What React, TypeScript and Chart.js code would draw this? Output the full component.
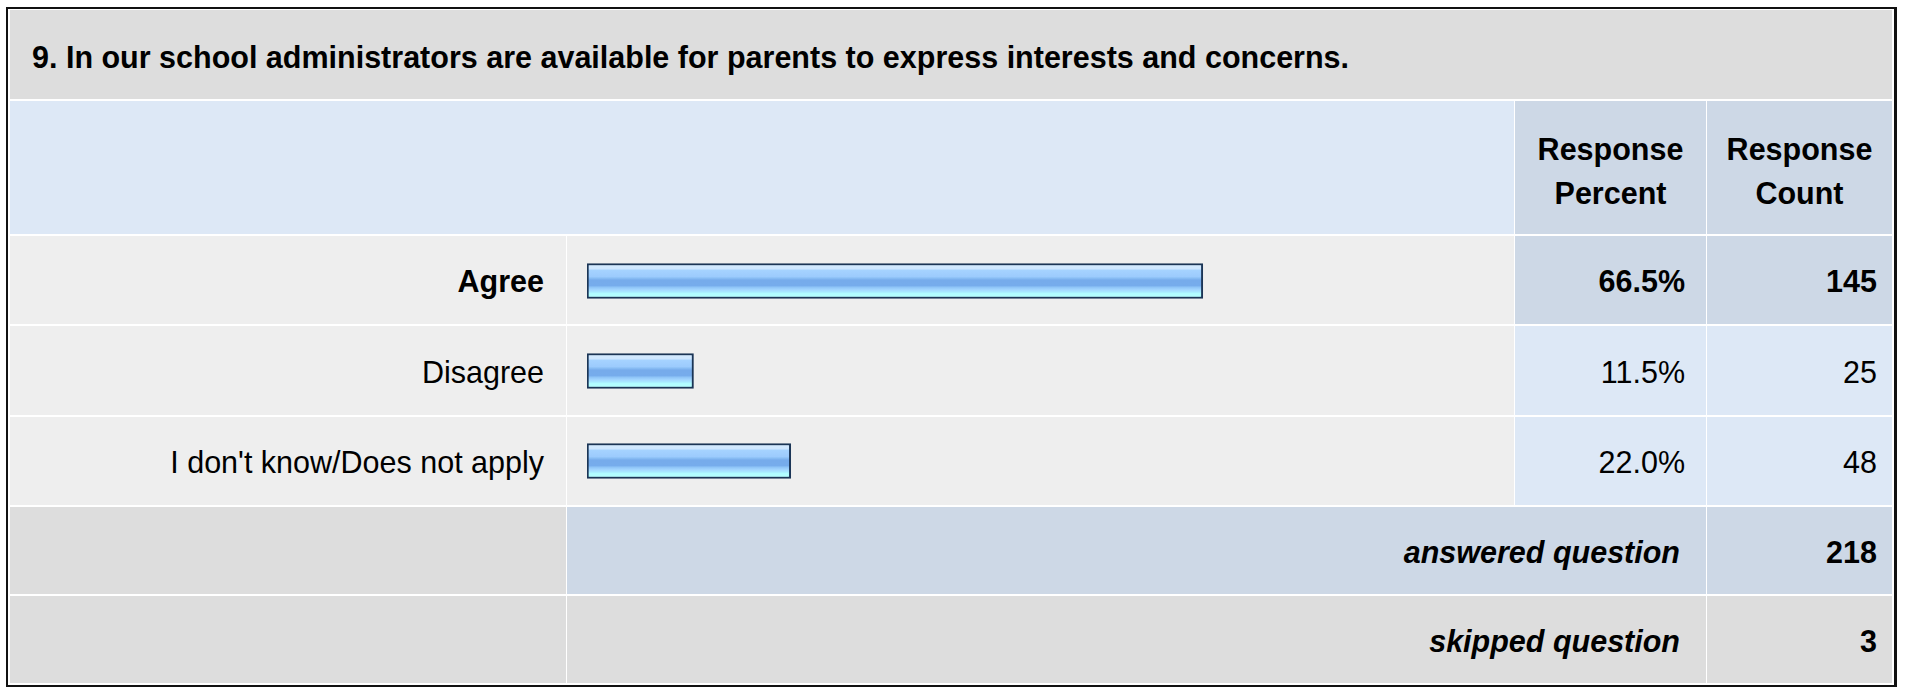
import React, { useEffect, useRef } from "react";
import { Chart, registerables } from "chart.js";

Chart.register(...registerables);

const title = "9. In our school administrators are available for parents to express interests and concerns.";
const categories = ["Agree", "Disagree", "I don't know/Does not apply"];
const percents = [66.5, 11.5, 22.0];
const counts = [145, 25, 48];
const answeredCount = 218;
const skippedCount = 3;
const headerPercent = ["Response", "Percent"];
const headerCount = ["Response", "Count"];

const FONT = "'Liberation Sans', Arial, Helvetica, sans-serif";
const FS = "30.5px";

const GRAY = "#dddddd";
const ROW = "#eeeeee";
const LBLUE = "#dde8f6";
const DBLUE = "#cdd8e6";

const COLS = [10, 567, 1515, 1707, 1893];
const ROWS = [
  [10, 100],
  [101, 235],
  [236, 325],
  [326, 416],
  [417, 506],
  [507, 595],
  [596, 684],
];

function Cell(props: {
  c0: number;
  c1: number;
  r: number;
  bg: string;
  align?: string;
  pr?: number;
  pl?: number;
  children?: React.ReactNode;
  style?: React.CSSProperties;
}) {
  const { c0, c1, r, bg, align = "flex-end", pr = 0, pl = 0, children, style } = props;
  const left = c0;
  const right = c1;
  const top = ROWS[r][0];
  const bottom = ROWS[r][1];
  return (
    <div
      style={{
        position: "absolute",
        left,
        top,
        width: right - left - 1,
        height: bottom - top - 1,
        background: bg,
        display: "flex",
        alignItems: "center",
        justifyContent: align,
        paddingRight: pr,
        paddingLeft: pl,
        paddingTop: 3,
        boxSizing: "border-box",
        fontFamily: FONT,
        fontSize: FS,
        color: "#000",
        whiteSpace: "nowrap",
        ...style,
      }}
    >
      {children}
    </div>
  );
}

const THICK = 35;

function makeFill(ctx: any) {
  const ch = ctx.chart;
  const ys = ch && ch.scales ? ch.scales.y : null;
  if (!ys || typeof ctx.dataIndex !== "number") return "#8cc0f5";
  const yc = ys.getPixelForValue(ctx.dataIndex);
  if (!isFinite(yc)) return "#8cc0f5";
  const y0 = yc - THICK / 2 + 2;
  const y1 = yc + THICK / 2 - 2;
  const g = ch.ctx.createLinearGradient(0, y0, 0, y1);
  g.addColorStop(0, "#d3eaff");
  g.addColorStop(0.12, "#cde6ff");
  g.addColorStop(0.14, "#a6d3ff");
  g.addColorStop(0.36, "#9ccbfd");
  g.addColorStop(0.4, "#8cc0f5");
  g.addColorStop(0.47, "#76abeb");
  g.addColorStop(0.65, "#76acec");
  g.addColorStop(0.7, "#8ec4f7");
  g.addColorStop(0.78, "#a3d6ff");
  g.addColorStop(0.86, "#a8ecff");
  g.addColorStop(0.9, "#b0fcff");
  g.addColorStop(1, "#b3ffff");
  return g;
}

function BarChart() {
  const ref = useRef<HTMLCanvasElement | null>(null);
  useEffect(() => {
    if (!ref.current) return;
    const chart = new Chart(ref.current, {
      type: "bar",
      data: {
        labels: categories,
        datasets: [
          {
            data: percents,
            borderColor: "#1b3556",
            borderWidth: 2,
            borderSkipped: false,
            barThickness: THICK,
            backgroundColor: makeFill,
          },
        ],
      },
      options: {
        indexAxis: "y",
        responsive: false,
        maintainAspectRatio: false,
        devicePixelRatio: 1,
        animation: false,
        events: [],
        layout: { padding: { left: 20, right: 0, top: 0, bottom: 0 } },
        scales: {
          x: { type: "linear", min: 0, max: 100, display: false },
          y: { type: "category", display: false, offset: true },
        },
        plugins: { legend: { display: false }, tooltip: { enabled: false } },
      },
    } as any);
    chart.update();
    return () => chart.destroy();
  }, []);
  const left = COLS[1];
  const top = ROWS[2][0];
  const w = COLS[2] - COLS[1] - 2;
  const h = ROWS[4][1] - ROWS[2][0];
  return (
    <canvas
      ref={ref}
      width={w}
      height={h}
      style={{ position: "absolute", left, top, width: w, height: h }}
    />
  );
}

export default function App() {
  const bold = { fontWeight: "bold" as const };
  const bi = { fontWeight: "bold" as const, fontStyle: "italic" as const };
  const head = { fontWeight: "bold" as const, textAlign: "center" as const, lineHeight: "44px", paddingTop: 7 };
  return (
    <div
      style={{
        position: "fixed",
        left: 0,
        top: 0,
        width: 1907,
        height: 687,
        background: "#fff",
        overflow: "hidden",
      }}
    >
      <div
        style={{
          position: "absolute",
          left: 6,
          top: 7,
          width: 1891,
          height: 680,
          border: "2px solid #111",
          borderRightWidth: 3,
          boxSizing: "border-box",
        }}
      />
      <Cell c0={COLS[0]} c1={COLS[4]} r={0} bg={GRAY} align="flex-start" pl={22} style={{ ...bold, paddingTop: 6 }}>
        {title}
      </Cell>
      <Cell c0={COLS[0]} c1={COLS[2]} r={1} bg={LBLUE} />
      <Cell c0={COLS[2]} c1={COLS[3]} r={1} bg={DBLUE} align="center" style={head}>
        <div>
          {headerPercent[0]}
          <br />
          {headerPercent[1]}
        </div>
      </Cell>
      <Cell c0={COLS[3]} c1={COLS[4]} r={1} bg={DBLUE} align="center" style={head}>
        <div>
          {headerCount[0]}
          <br />
          {headerCount[1]}
        </div>
      </Cell>
      {categories.map((c, i) => {
        const first = i === 0;
        const st = first ? bold : {};
        const bg = first ? DBLUE : LBLUE;
        return (
          <React.Fragment key={c}>
            <Cell c0={COLS[0]} c1={COLS[1]} r={2 + i} bg={ROW} pr={22} style={st}>
              {c}
            </Cell>
            <Cell c0={COLS[1]} c1={COLS[2]} r={2 + i} bg={ROW} />
            <Cell c0={COLS[2]} c1={COLS[3]} r={2 + i} bg={bg} pr={21} style={st}>
              {percents[i].toFixed(1) + "%"}
            </Cell>
            <Cell c0={COLS[3]} c1={COLS[4]} r={2 + i} bg={bg} pr={15} style={st}>
              {String(counts[i])}
            </Cell>
          </React.Fragment>
        );
      })}
      <BarChart />
      <Cell c0={COLS[0]} c1={COLS[1]} r={5} bg={GRAY} />
      <Cell c0={COLS[1]} c1={COLS[3]} r={5} bg={DBLUE} pr={26} style={bi}>
        answered question
      </Cell>
      <Cell c0={COLS[3]} c1={COLS[4]} r={5} bg={DBLUE} pr={15} style={bold}>
        {String(answeredCount)}
      </Cell>
      <Cell c0={COLS[0]} c1={COLS[1]} r={6} bg={GRAY} />
      <Cell c0={COLS[1]} c1={COLS[3]} r={6} bg={GRAY} pr={26} style={bi}>
        skipped question
      </Cell>
      <Cell c0={COLS[3]} c1={COLS[4]} r={6} bg={GRAY} pr={15} style={bold}>
        {String(skippedCount)}
      </Cell>
    </div>
  );
}
